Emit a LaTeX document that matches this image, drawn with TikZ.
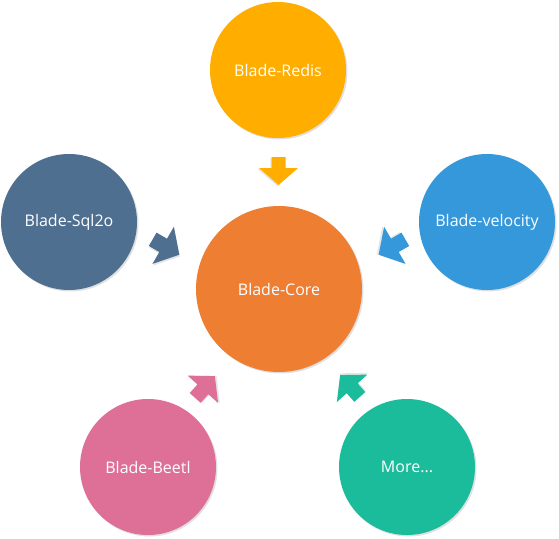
\documentclass[tikz,border=0pt]{standalone}
\usepackage{fontspec}
\setmainfont{Open Sans}
\begin{document}
\begin{tikzpicture}[x=1pt,y=-1pt,
  bubble/.style={circle,inner sep=0pt,text=white,font=\fontsize{16}{18}\selectfont,
    preaction={fill=black!12,transform canvas={shift={(1.5pt,-1.5pt)}}}},
  blockarrow/.style={draw=none}]
\definecolor{cRedis}{HTML}{FFAE00}
\definecolor{cSql}{HTML}{4F6F91}
\definecolor{cVel}{HTML}{3498DB}
\definecolor{cCore}{HTML}{EE7E32}
\definecolor{cBeetl}{HTML}{DE6F96}
\definecolor{cMore}{HTML}{1ABC9C}
\useasboundingbox (0,0) rectangle (559,538);
\newcommand{\barrow}[5]{%
  \begin{scope}[shift={(#1,#2)},rotate=#3,scale=#5]
    \fill[black!10,shift={(1.2,1.2)}] (-14,-7) -- (-3,-7) -- (-3,-19.5) -- (14,0) -- (-3,19.5) -- (-3,7) -- (-14,7) -- cycle;
    \fill[#4] (-14,-7) -- (-3,-7) -- (-3,-19.5) -- (14,0) -- (-3,19.5) -- (-3,7) -- (-14,7) -- cycle;
  \end{scope}}
\node[bubble,fill=cCore,minimum size=166pt] (core) at (279,289) {Blade-Core};
\node[bubble,fill=cRedis,minimum size=136pt] (redis) at (278,70) {Blade-Redis};
\node[bubble,fill=cSql,minimum size=136pt] (sql) at (69,222) {Blade-Sql2o};
\node[bubble,fill=cVel,minimum size=136pt] (vel) at (487,222) {Blade-velocity};
\node[bubble,fill=cBeetl,minimum size=136pt] (beetl) at (148,467) {Blade-Beetl};
\node[bubble,fill=cMore,minimum size=136pt] (more) at (407,467) {More...};
\barrow{278.5}{171}{-90}{cRedis}{1}
\barrow{166}{247}{-30}{cSql}{1.1}
\barrow{392}{247}{-150}{cVel}{1.1}
\barrow{205}{387}{48}{cBeetl}{1.05}
\barrow{350}{386}{132}{cMore}{1.05}
\end{tikzpicture}
\end{document}
